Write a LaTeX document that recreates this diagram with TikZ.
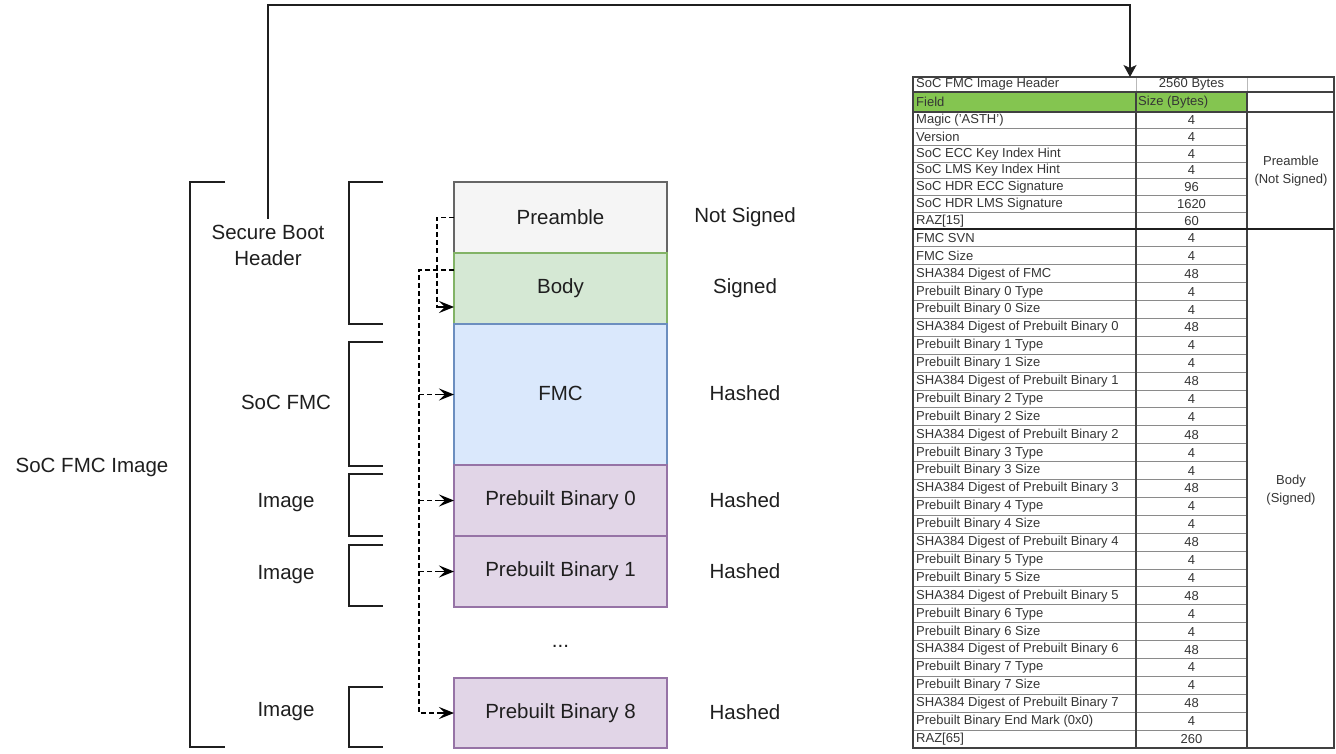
\documentclass[tikz,border=0pt]{standalone}
\usepackage{fontspec}
\setmainfont{Liberation Sans}
\usetikzlibrary{arrows.meta}
\definecolor{preF}{HTML}{F5F5F5}\definecolor{preD}{HTML}{666666}
\definecolor{bodyF}{HTML}{D5E8D4}\definecolor{bodyD}{HTML}{82B366}
\definecolor{fmcF}{HTML}{DAE8FC}\definecolor{fmcD}{HTML}{6C8EBF}
\definecolor{pbF}{HTML}{E1D5E7}\definecolor{pbD}{HTML}{9673A6}
\definecolor{hdrG}{HTML}{84C550}
\definecolor{ink}{HTML}{1F1F1F}
\definecolor{gridc}{HTML}{8A8A8A}
\begin{document}
\begin{tikzpicture}[x=1pt,y=-1pt,
  lbl/.style={font=\fontsize{20.5}{26}\selectfont, text=ink, inner sep=0pt, align=center},
  blk/.style={draw, line width=1.3pt, minimum width=213pt, inner sep=0pt, outer sep=0pt,
              font=\fontsize{20.5}{25}\selectfont, text=ink},
  brk/.style={draw=ink, line width=1.5pt},
  dshl/.style={line width=1.4pt, dash pattern=on 5pt off 3pt, shorten >=10pt},
  tipa/.style={line width=1.4pt, solid, -{Stealth[length=15pt,width=12pt,inset=6pt]}},
  conn/.style={line width=1.5pt, draw=ink, -{Stealth[length=12pt,width=13pt,inset=3pt]}},
  tcell/.style={font=\fontsize{13}{18}\selectfont, text=ink!90, inner sep=0pt},
  rowline/.style={draw=gridc, line width=1pt},
  frame/.style={draw=ink!85, line width=1.4pt},
]
\useasboundingbox (0,0) rectangle (1336,754);
\fill[white] (0,0) rectangle (1336,754);

% ---- brackets ----
\draw[brk] (225,182) -- (190,182) -- (190,747) -- (225,747);
\draw[brk] (383,182) -- (349,182) -- (349,324) -- (383,324);
\draw[brk] (383,342) -- (349,342) -- (349,466) -- (383,466);
\draw[brk] (383,474) -- (349,474) -- (349,536) -- (383,536);
\draw[brk] (383,545) -- (349,545) -- (349,606) -- (383,606);
\draw[brk] (383,687) -- (349,687) -- (349,747) -- (383,747);

% ---- labels ----
\node[lbl] (img)  at (92,467)  {SoC FMC Image};
\node[lbl] (sbh)  at (268,245) {Secure Boot\\Header};
\node[lbl] (sfmc) at (286,402) {SoC FMC};
\node[lbl] (im0)  at (286,503) {Image};
\node[lbl] (im1)  at (286,575) {Image};
\node[lbl] (im8)  at (286,712) {Image};

% ---- blocks ----
\node[blk, fill=preF,  draw=preD,  minimum height=71pt]  (pre)  at (560.5,217.5) {Preamble};
\node[blk, fill=bodyF, draw=bodyD, minimum height=71pt]  (body) at (560.5,288.5) {Body};
\node[blk, fill=fmcF,  draw=fmcD,  minimum height=141pt] (fmc) at (560.5,394.5) {};
\node[lbl] (fmct) at (560.5,393) {FMC};
\node[blk, fill=pbF,   draw=pbD,   minimum height=71pt]  (pb0)  at (560.5,500.5) {Prebuilt Binary 0};
\node[blk, fill=pbF,   draw=pbD,   minimum height=71pt]  (pb1)  at (560.5,571.5) {Prebuilt Binary 1};
\node[lbl] (dots) at (560.5,646) {...};
\node[blk, fill=pbF,   draw=pbD,   minimum height=70pt]  (pb8)  at (560.5,713) {Prebuilt Binary 8};

% ---- status ----
\node[lbl] (s0) at (745,217) {Not Signed};
\node[lbl] (s1) at (745,288) {Signed};
\node[lbl] (s2) at (745,393) {Hashed};
\node[lbl] (s3) at (745,500) {Hashed};
\node[lbl] (s4) at (745,571) {Hashed};
\node[lbl] (s5) at (745,712) {Hashed};

% ---- dashed connectors ----
\coordinate (bodyIn) at ([yshift=-18.5pt]body.west);
\draw[dshl] (pre.west) -- ++(-17,0) |- (bodyIn);
\draw[tipa] ([xshift=-16pt]bodyIn) -- (bodyIn);
\draw[dshl] ([yshift=18.5pt]body.west) -- ++(-35,0) coordinate (bus) |- (pb8.west);
\draw[dshl] (bus |- fmc.west) -- (fmc.west);
\draw[dshl] (bus |- pb0.west) -- (pb0.west);
\draw[dshl] (bus |- pb1.west) -- (pb1.west);
\foreach \b in {fmc,pb0,pb1,pb8}
  \draw[tipa] ([xshift=-16pt]\b.west) -- (\b.west);

% ---- table ----
\fill[hdrG] (913,92) rectangle (1247,112);
\draw[draw=gridc!60, line width=0.8pt] (1136,77) -- (1136,92) (1247,77) -- (1247,92);
\foreach \k in {1,...,6}
  \draw[rowline] (913,{112+\k*16.714}) -- (1247,{112+\k*16.714});
\foreach \k in {1,...,28}
  \draw[rowline] (913,{229+\k*17.897}) -- (1247,{229+\k*17.897});
\draw[frame] (913,77) rectangle (1334,748);
\draw[frame] (913,92) -- (1334,92) (913,112) -- (1334,112);
\draw[frame] (1136,92) -- (1136,748) (1247,92) -- (1247,748);
\draw[draw=ink, line width=2.2pt] (913,229) -- (1334,229);

\node[tcell, anchor=west] (th) at (916,84.5) {SoC FMC Image Header};
\node[tcell] (thb) at (1191.5,84.5) {2560 Bytes};
\node[tcell, anchor=west] (tf) at (916,102) {Field};
\node[tcell, anchor=west] (ts) at (1138,102) {Size (Bytes)};

\foreach \fa/\fb [count=\k from 0] in {{Magic ('ASTH')}/4, Version/4, {SoC ECC Key Index Hint}/4,
    {SoC LMS Key Index Hint}/4, {SoC HDR ECC Signature}/96, {SoC HDR LMS Signature}/1620, {RAZ[15]}/60}{
  \node[tcell, anchor=west] (pf\k) at (916,{112+(\k+0.5)*16.714}) {\fa};
  \node[tcell] (ps\k) at (1191.5,{112+(\k+0.5)*16.714}) {\fb};
}
\foreach \fa/\fb [count=\k from 0] in {{FMC SVN}/4, {FMC Size}/4, {SHA384 Digest of FMC}/48,
    {Prebuilt Binary 0 Type}/4, {Prebuilt Binary 0 Size}/4, {SHA384 Digest of Prebuilt Binary 0}/48,
    {Prebuilt Binary 1 Type}/4, {Prebuilt Binary 1 Size}/4, {SHA384 Digest of Prebuilt Binary 1}/48,
    {Prebuilt Binary 2 Type}/4, {Prebuilt Binary 2 Size}/4, {SHA384 Digest of Prebuilt Binary 2}/48,
    {Prebuilt Binary 3 Type}/4, {Prebuilt Binary 3 Size}/4, {SHA384 Digest of Prebuilt Binary 3}/48,
    {Prebuilt Binary 4 Type}/4, {Prebuilt Binary 4 Size}/4, {SHA384 Digest of Prebuilt Binary 4}/48,
    {Prebuilt Binary 5 Type}/4, {Prebuilt Binary 5 Size}/4, {SHA384 Digest of Prebuilt Binary 5}/48,
    {Prebuilt Binary 6 Type}/4, {Prebuilt Binary 6 Size}/4, {SHA384 Digest of Prebuilt Binary 6}/48,
    {Prebuilt Binary 7 Type}/4, {Prebuilt Binary 7 Size}/4, {SHA384 Digest of Prebuilt Binary 7}/48,
    {Prebuilt Binary End Mark (0x0)}/4, {RAZ[65]}/260}{
  \node[tcell, anchor=west] (bf\k) at (916,{229+(\k+0.5)*17.897}) {\fa};
  \node[tcell] (bs\k) at (1191.5,{229+(\k+0.5)*17.897}) {\fb};
}
\node[tcell, align=center] (pnote) at (1291,171) {Preamble\\(Not Signed)};
\node[tcell, align=center] (bnote) at (1291,490) {Body\\(Signed)};

% ---- top connector ----
\coordinate (sbhTop) at ([yshift=6pt]sbh.north);
\coordinate (tabin) at (1130,77);
\draw[conn] (sbhTop) -- (sbhTop |- 0,5) -| (tabin);
\end{tikzpicture}
\end{document}
